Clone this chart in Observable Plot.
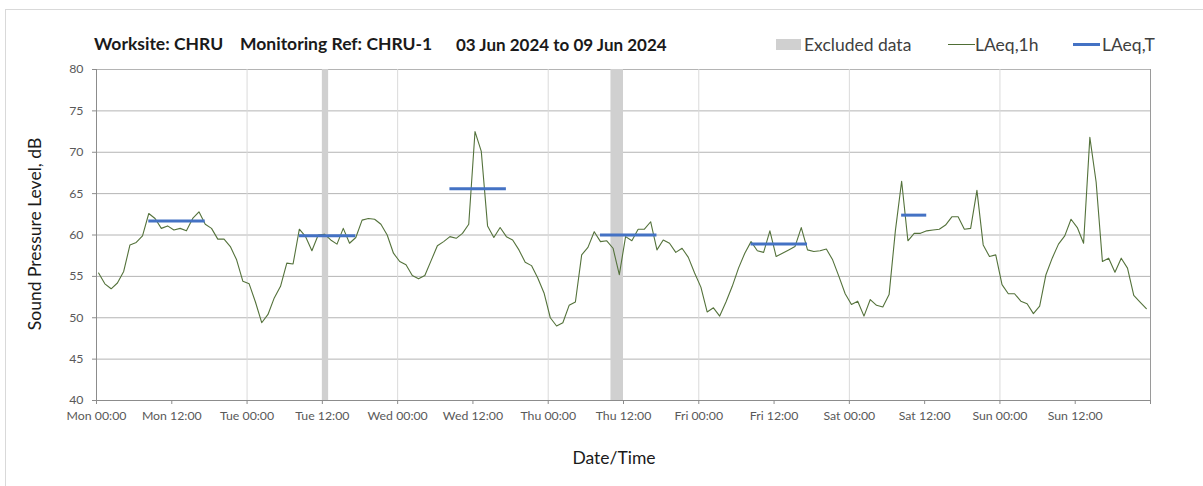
<!DOCTYPE html>
<html>
<head>
<meta charset="utf-8">
<script src="https://cdn.jsdelivr.net/npm/d3@7"></script>
<script src="https://cdn.jsdelivr.net/npm/@observablehq/plot@0.6"></script>
<style>
  html, body { margin: 0; padding: 0; background: #fff; }
  #wrap { position: relative; width: 1203px; height: 486px; overflow: hidden; font-family: Lato, "Open Sans", sans-serif; }
  #frame { position: absolute; left: 5px; top: 9px; width: 1400px; height: 700px; border: 1px solid #d9d9d9; box-sizing: border-box; }
  #chart { position: absolute; left: 0; top: 0; }
  .t { position: absolute; white-space: nowrap; line-height: 1; }
  .title { top: 35px; font-weight: bold; font-size: 17.5px; color: #1a1a1a; }
  .leg { top: 36px; font-size: 17.5px; color: #404040; }
  .sw { position: absolute; }
  #ylab { position: absolute; left: 35px; top: 234px; transform: translate(-50%, -50%) rotate(-90deg); font-size: 17.5px; color: #1a1a1a; white-space: nowrap; line-height: 1; }
  #xlab { position: absolute; left: 614px; top: 449px; transform: translateX(-50%); font-size: 17.5px; color: #1a1a1a; white-space: nowrap; line-height: 1; }
</style>
</head>
<body>
<div id="wrap">
  <div id="frame"></div>
  <div id="chart"></div>
  <span class="t title" style="left:94px">Worksite: CHRU</span>
  <span class="t title" style="left:240px">Monitoring Ref: CHRU-1</span>
  <span class="t title" style="left:456px;font-size:17px;top:35.5px">03 Jun 2024 to 09 Jun 2024</span>
  <div class="sw" style="left:776px;top:39px;width:25px;height:11px;background:#d0d0d0"></div>
  <span class="t leg" style="left:804px">Excluded data</span>
  <div class="sw" style="left:948px;top:44px;width:27px;height:1px;background:#4f6e35"></div>
  <span class="t leg" style="left:975px">LAeq,1h</span>
  <div class="sw" style="left:1073px;top:43px;width:27px;height:3px;background:#4472c4"></div>
  <span class="t leg" style="left:1102px">LAeq,T</span>
  <div id="ylab">Sound Pressure Level, dB</div>
  <div id="xlab">Date/Time</div>
</div>
<script>
// ---- Data ----
const startDate = new Date(Date.UTC(2024, 5, 3, 0, 0)); // Mon 03 Jun 2024
const hoursShown = 168;
const readingOffsetMinutes = 20;

// Hourly LAeq,1h values (dB), Mon 00:00 .. Sun 23:00
const laeq1h = [
  55.4, 54.1, 53.5, 54.2, 55.6, 58.8, 59.1, 59.9, 62.6, 62.0, 60.8, 61.1, 60.6, 60.8, 60.5, 62.0, 62.8, 61.3, 60.8, 59.5, 59.5, 58.6, 57.0, 54.4,
  54.1, 51.9, 49.4, 50.4, 52.4, 53.8, 56.6, 56.5, 60.7, 59.8, 58.1, 60.0, 60.1, 59.4, 58.9, 60.8, 59.0, 59.7, 61.8, 62.0, 61.9, 61.3, 60.0, 57.8,
  56.8, 56.4, 55.1, 54.7, 55.1, 56.9, 58.7, 59.2, 59.8, 59.6, 60.2, 61.3, 72.5, 70.1, 61.1, 59.7, 60.9, 59.8, 59.4, 58.2, 56.7, 56.3, 54.8, 53.0,
  50.0, 49.0, 49.4, 51.5, 51.9, 57.6, 58.5, 60.4, 59.2, 59.3, 58.4, 55.2, 59.8, 59.3, 60.7, 60.7, 61.6, 58.2, 59.4, 59.0, 57.9, 58.4, 57.3, 55.4,
  53.7, 50.7, 51.2, 50.2, 51.9, 53.8, 56.0, 57.8, 59.2, 58.1, 57.9, 60.5, 57.4, 57.8, 58.2, 58.6, 60.9, 58.2, 58.0, 58.1, 58.3, 57.0, 55.0, 52.9,
  51.6, 52.0, 50.2, 52.2, 51.5, 51.3, 52.8, 60.5, 66.5, 59.3, 60.2, 60.2, 60.5, 60.6, 60.7, 61.2, 62.2, 62.2, 60.7, 60.8, 65.4, 58.8, 57.4, 57.6,
  54.0, 52.9, 52.9, 52.0, 51.7, 50.5, 51.4, 55.2, 57.2, 58.9, 59.9, 61.9, 60.9, 59.0, 71.8, 66.4, 56.8, 57.2, 55.5, 57.2, 56.0, 52.7, 51.9, 51.1
];

// LAeq,T periods (hour index from start)
const periodStartHour = [8, 32, 56, 80, 104, 128];
const periodEndHour   = [17, 41, 65, 89, 113, 132];
const periodLevel     = [61.7, 59.9, 65.6, 60.0, 58.9, 62.4];

// Excluded data periods (hour index from start)
const excludedStartHour = [36, 82];
const excludedEndHour   = [37, 84];

// Axis ticks
const yTicks = [40, 45, 50, 55, 60, 65, 70, 75, 80];
const xTickLabels = ["Mon 00:00", "Mon 12:00", "Tue 00:00", "Tue 12:00", "Wed 00:00", "Wed 12:00", "Thu 00:00",
                     "Thu 12:00", "Fri 00:00", "Fri 12:00", "Sat 00:00", "Sat 12:00", "Sun 00:00", "Sun 12:00"];

// ---- Build tables ----
const H = 3600e3;
const at = h => new Date(startDate.getTime() + h * H);
const endDate = at(hoursShown);
const hourly = laeq1h.map((v, i) => ({ t: new Date(at(i).getTime() + readingOffsetMinutes * 60e3), v }));
const periods = periodLevel.map((lv, i) => ({
  x1: new Date(at(periodStartHour[i]).getTime() + readingOffsetMinutes * 60e3),
  x2: new Date(at(periodEndHour[i]).getTime() + readingOffsetMinutes * 60e3),
  y: lv
}));
const excluded = excludedStartHour.map((s, i) => ({ x1: at(s), x2: at(excludedEndHour[i]) }));
const tickDates = d3.range(0, xTickLabels.length + 1).map(i => at(i * 12));
const dayLines = d3.range(1, 7).map(i => at(i * 24));

const chart = Plot.plot({
  width: 1203,
  height: 486,
  marginLeft: 96,
  marginRight: 53,
  marginTop: 69,
  marginBottom: 86,
  style: { fontFamily: "Lato, 'Open Sans', sans-serif", fontSize: "12.3px", color: "#595959", background: "transparent" },
  x: { type: "utc", domain: [startDate, endDate] },
  y: { domain: [40, 80] },
  marks: [
    Plot.ruleY(yTicks.filter(d => d > 40), { stroke: "#b4b4b4", strokeWidth: 1 }),
    Plot.ruleX(dayLines, { stroke: "#dadada", strokeWidth: 1 }),
    Plot.rect(excluded, { x1: "x1", x2: "x2", fill: "#d0d0d0" }),
    Plot.line(hourly, { x: "t", y: "v", stroke: "#54723b", strokeWidth: 1.1 }),
    Plot.ruleY(periods, { y: "y", x1: "x1", x2: "x2", stroke: "#4472c4", strokeWidth: 3 }),
    Plot.ruleX([startDate], { stroke: "#8c8c8c" }),
    Plot.ruleX([endDate], { stroke: "#9a9a9a" }),
    Plot.ruleY([40], { stroke: "#8c8c8c" }),
    Plot.axisY(yTicks, { tickSize: 4, tickPadding: 9, stroke: "#8c8c8c", fill: "#595959", label: null }),
    Plot.axisX(tickDates, {
      tickSize: 4, tickPadding: 7, stroke: "#8c8c8c", fill: "#595959", label: null,
      tickFormat: d => xTickLabels[Math.round((d - startDate) / (12 * H))] || ""
    })
  ]
});
document.getElementById("chart").appendChild(chart);
</script>
</body>
</html>
